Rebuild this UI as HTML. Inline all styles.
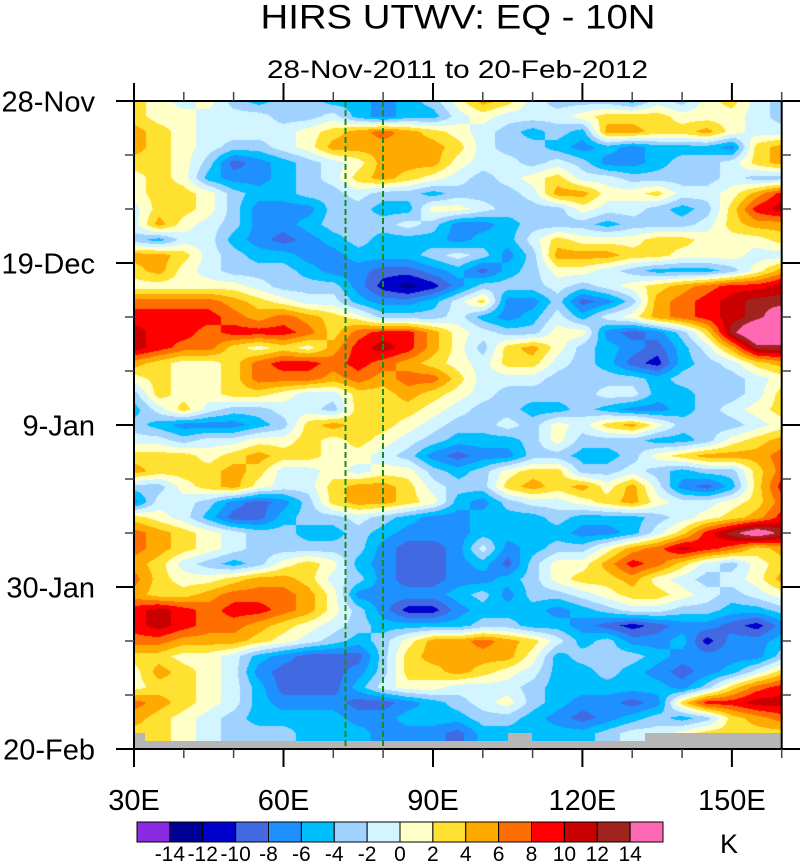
<!DOCTYPE html>
<html><head><meta charset="utf-8"><style>
html,body{margin:0;padding:0;background:#fff;}
#wrap{position:relative;width:801px;height:863px;overflow:hidden;background:#fff;}
#cv{position:absolute;left:134px;top:101px;width:648px;height:648px;}
svg{position:absolute;left:0;top:0;}
text{font-family:"Liberation Sans",Arial,sans-serif;fill:#000;}
</style></head><body><div id="wrap">
<canvas id="cv" width="648" height="648"></canvas>
<svg width="801" height="863" viewBox="0 0 801 863" xmlns="http://www.w3.org/2000/svg">
<path d="M134,733 H145 V741 H508 V733 H532 V741 H645 V733 H782 V749 H134 Z" fill="#b6b6b6"/>
<line x1="345.5" y1="101" x2="345.5" y2="749" stroke="#1f8a1f" stroke-width="2" stroke-dasharray="6 3"/>
<line x1="383" y1="101" x2="383" y2="749" stroke="#1f8a1f" stroke-width="2" stroke-dasharray="6 3"/>
<rect x="134" y="101" width="647.7" height="648" fill="none" stroke="#000" stroke-width="2"/>
<g stroke="#000" stroke-width="2">
<line x1="134" y1="101" x2="134" y2="83"/><line x1="283.5" y1="101" x2="283.5" y2="83"/><line x1="433" y1="101" x2="433" y2="83"/><line x1="582.4" y1="101" x2="582.4" y2="83"/><line x1="731.9" y1="101" x2="731.9" y2="83"/>
<line x1="134" y1="749" x2="134" y2="767"/><line x1="283.5" y1="749" x2="283.5" y2="767"/><line x1="433" y1="749" x2="433" y2="767"/><line x1="582.4" y1="749" x2="582.4" y2="767"/><line x1="731.9" y1="749" x2="731.9" y2="767"/>
<line x1="116" y1="101" x2="134" y2="101"/><line x1="116" y1="263" x2="134" y2="263"/><line x1="116" y1="425" x2="134" y2="425"/><line x1="116" y1="587" x2="134" y2="587"/><line x1="116" y1="749" x2="134" y2="749"/>
<line x1="782" y1="101" x2="800" y2="101"/><line x1="782" y1="263" x2="800" y2="263"/><line x1="782" y1="425" x2="800" y2="425"/><line x1="782" y1="587" x2="800" y2="587"/><line x1="782" y1="749" x2="800" y2="749"/>
</g>
<g stroke="#444" stroke-width="1.5">
<line x1="183.8" y1="101" x2="183.8" y2="92"/><line x1="233.6" y1="101" x2="233.6" y2="92"/><line x1="333.3" y1="101" x2="333.3" y2="92"/><line x1="383.1" y1="101" x2="383.1" y2="92"/><line x1="482.8" y1="101" x2="482.8" y2="92"/><line x1="532.6" y1="101" x2="532.6" y2="92"/><line x1="632.2" y1="101" x2="632.2" y2="92"/><line x1="682.1" y1="101" x2="682.1" y2="92"/><line x1="781.7" y1="101" x2="781.7" y2="92"/>
<line x1="183.8" y1="749" x2="183.8" y2="758"/><line x1="233.6" y1="749" x2="233.6" y2="758"/><line x1="333.3" y1="749" x2="333.3" y2="758"/><line x1="383.1" y1="749" x2="383.1" y2="758"/><line x1="482.8" y1="749" x2="482.8" y2="758"/><line x1="532.6" y1="749" x2="532.6" y2="758"/><line x1="632.2" y1="749" x2="632.2" y2="758"/><line x1="682.1" y1="749" x2="682.1" y2="758"/><line x1="781.7" y1="749" x2="781.7" y2="758"/>
<line x1="125" y1="155" x2="134" y2="155"/><line x1="125" y1="209" x2="134" y2="209"/><line x1="125" y1="317" x2="134" y2="317"/><line x1="125" y1="371" x2="134" y2="371"/><line x1="125" y1="479" x2="134" y2="479"/><line x1="125" y1="533" x2="134" y2="533"/><line x1="125" y1="641" x2="134" y2="641"/><line x1="125" y1="695" x2="134" y2="695"/>
<line x1="782" y1="155" x2="791" y2="155"/><line x1="782" y1="209" x2="791" y2="209"/><line x1="782" y1="317" x2="791" y2="317"/><line x1="782" y1="371" x2="791" y2="371"/><line x1="782" y1="479" x2="791" y2="479"/><line x1="782" y1="533" x2="791" y2="533"/><line x1="782" y1="641" x2="791" y2="641"/><line x1="782" y1="695" x2="791" y2="695"/>
</g>
<text x="458" y="28.5" font-size="34" text-anchor="middle" textLength="395" lengthAdjust="spacingAndGlyphs">HIRS UTWV: EQ - 10N</text>
<text x="457.5" y="78" font-size="25" text-anchor="middle" textLength="381" lengthAdjust="spacingAndGlyphs">28-Nov-2011 to 20-Feb-2012</text>
<g font-size="29" text-anchor="end">
<text x="95" y="111.5">28-Nov</text><text x="95" y="273.5">19-Dec</text><text x="95" y="435.5">9-Jan</text><text x="95" y="597.5">30-Jan</text><text x="95" y="759.5">20-Feb</text>
</g>
<g font-size="29" text-anchor="middle">
<text x="134" y="810">30E</text><text x="283.5" y="810">60E</text><text x="433" y="810">90E</text><text x="582.4" y="810">120E</text><text x="731.9" y="810">150E</text>
</g>
<g id="cb" stroke="#000" stroke-width="1"></g>
<g id="cbl" font-size="21" text-anchor="middle"></g>
<text x="729" y="853" font-size="27" text-anchor="middle">K</text>
</svg>
</div>
<script>
(function(){
var cols=[[138,43,226],[0,0,150],[0,0,205],[65,105,225],[30,144,255],[0,191,255],[160,210,255],[210,245,255],[255,255,200],[255,225,50],[255,170,0],[255,110,0],[255,0,0],[200,0,0],[160,35,30],[255,105,180]];
var hex=function(c){return 'rgb('+c[0]+','+c[1]+','+c[2]+')';};
var NS='http://www.w3.org/2000/svg';
var cb=document.getElementById('cb'),cbl=document.getElementById('cbl');
var bw=(663-137)/16;
for(var k=0;k<16;k++){var r=document.createElementNS(NS,'rect');r.setAttribute('x',137+k*bw);r.setAttribute('y',822);r.setAttribute('width',bw);r.setAttribute('height',20);r.setAttribute('fill',hex(cols[k]));cb.appendChild(r);}
for(var k=0;k<15;k++){var t=document.createElementNS(NS,'text');t.setAttribute('x',137+(k+1)*bw);t.setAttribute('y',861);t.textContent=String(-14+2*k);cbl.appendChild(t);}
var rows=[
"98786566554568a976665768976",
"988777667545578777899988876",
"a98777789aba9876565aa99a877",
"a9876678aaaaa9766545455549a",
"9986345678aaa8776764456679a",
"8985445679a9876789776666766",
"89986556676656667aa889778ac",
"7998644466558876668776569cd",
"7a87644566676445666566679aa",
"657754345655545579888998889",
"aa976554455567646aaa9988877",
"9a876665443345356887655568a",
"8888876664212466676789abccd",
"bbbba9877544579446346abcdee",
"ccccbaba9866675457578abcdeg",
"dccbcccb9bcca87668843469ehh",
"dcbb9898acdca869a8654357aee",
"a9889bccbcba98799765325679a",
"89889bbbababb97776666566678",
"69889987799a987666677556679",
"579766776999876655654456789",
"65444569a99876676879a866678",
"77677889898765556866655689a",
"99989a99887643446655689aaab",
"a999a977878865689966765669b",
"6689a8779aa97669a9a8a74359c",
"477643469aa985467789a87789b",
"9875335667654455565556789ac",
"ba987665565444555544579cege",
"ba987666664334745668abdcb9a",
"a976568985433453688acb97689",
"b9889aa9764334456899a87678a",
"a99abbba8444456466789987678",
"cdcbccba8642245554567766556",
"cdcbba987655556655432344324",
"bbaaa9876568aaba97564452445",
"998875433369aaaa85666544446",
"8a98743334699a9875565434579",
"8998753335788777655555469bc",
"ba987544433456786544349ccdd",
"a987655554455566543456569ab",
"998766655544435555567789999",
"998766655544435555567789999"];
var g=rows.map(function(r){var a=[];for(var i=0;i<r.length;i++)a.push(parseInt(r.charAt(i),36)+0.5);return a;});
var cv=document.getElementById('cv'),ctx=cv.getContext('2d');
var W=648,H=648,img=ctx.createImageData(W,H),d=img.data;
var NX=26,NY=42;
for(var py=0;py<H;py++){
 var fy=(py+0.5)/H*NY,j=Math.floor(fy);if(j>NY-1)j=NY-1;var ty=fy-j;
 var r0=g[j],r1=g[j+1];
 for(var px=0;px<W;px++){
  var fx=(px+0.5)/W*NX,i=Math.floor(fx);if(i>NX-1)i=NX-1;var tx=fx-i;
  var v=(r0[i]*(1-tx)+r0[i+1]*tx)*(1-ty)+(r1[i]*(1-tx)+r1[i+1]*tx)*ty;
  var L=Math.floor(v);if(L<0)L=0;if(L>15)L=15;
  var c=cols[L],o=(py*W+px)*4;
  d[o]=c[0];d[o+1]=c[1];d[o+2]=c[2];d[o+3]=255;
 }
}
ctx.putImageData(img,0,0);
})();
</script>
</body></html>
